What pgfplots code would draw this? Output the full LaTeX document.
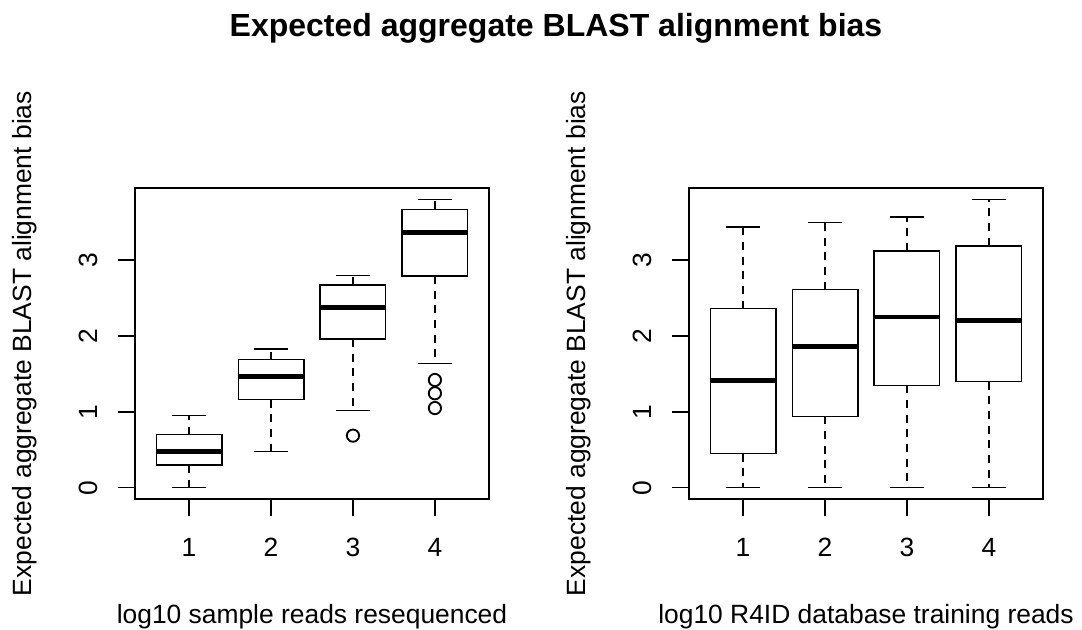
\documentclass[border=0pt]{standalone}
\usepackage{fontspec}
\setmainfont{Liberation Sans}
\usepackage{pgfplots}
\pgfplotsset{compat=1.18}

\newcommand\mainsz{\fontsize{19.8}{23}\selectfont}

\pgfplotsset{
  whisk/.style={black, line width=1.1pt, dash pattern=on 6pt off 5pt},
  rline/.style={black, line width=1.1pt, solid, line join=miter, line cap=rect},
  med/.style={black, line width=3.6pt, line cap=butt},
  outl/.style={black, only marks, mark=o, mark size=4.6pt, mark options={line width=1.4pt}},
  rpanel/.style={
    scale only axis, width=265.5pt, height=233.4pt,
    xmin=0.34, xmax=4.66, ymin=-0.152, ymax=3.952,
    xtick={1,2,3,4}, ytick={0,1,2,3},
    tick align=outside, tick pos=left, major tick length=12.75pt,
    axis line style={line width=1.1pt},
    every tick/.style={black, line width=1.1pt},
    /pgf/number format/assume math mode=true,
    tick label style={font=\mainsz},
    xticklabel style={anchor=base, yshift=-30.5pt},
    yticklabel style={xshift=-15.5pt, rotate=90, anchor=base},
    label style={font=\mainsz},
    xlabel style={at={(axis description cs:0.5,-0.398)}, anchor=base},
    ylabel style={at={(axis description cs:-0.291,0.5)}, rotate=0, anchor=base},
    ylabel={Expected aggregate BLAST alignment bias},
  },
}

% one R style box: x, lower whisker, Q1, median, Q3, upper whisker
\newcommand\rbox[6]{%
  \pgfmathsetmacro\bxl{#1-0.4}\pgfmathsetmacro\bxr{#1+0.4}%
  \pgfmathsetmacro\cpl{#1-0.2}\pgfmathsetmacro\cpr{#1+0.2}%
  \addplot[whisk] coordinates {(#1,#3) (#1,#2)};
  \addplot[whisk] coordinates {(#1,#5) (#1,#6)};
  \addplot[rline] coordinates {(\cpl,#2) (\cpr,#2)};
  \addplot[rline] coordinates {(\cpl,#6) (\cpr,#6)};
  \addplot[rline] coordinates {(\bxl,#3) (\bxr,#3) (\bxr,#5) (\bxl,#5) (\bxl,#3)};
  \addplot[med] coordinates {(\bxl,#4) (\bxr,#4)};
}

\begin{document}
\begin{tikzpicture}
\path[use as bounding box] (0,0) rectangle (811.5pt,471.75pt);
\node[anchor=base, font=\bfseries\fontsize{24}{28}\selectfont] at (417pt,444.2pt)
  {Expected aggregate BLAST alignment bias};

\begin{axis}[rpanel, at={(101.25pt,97.35pt)}, anchor=south west,
             xlabel={log10 sample reads resequenced}]
\rbox{1}{0}{0.30}{0.475}{0.70}{0.95}
\rbox{2}{0.475}{1.16}{1.47}{1.69}{1.83}
\rbox{3}{1.02}{1.96}{2.375}{2.67}{2.80}
\rbox{4}{1.64}{2.79}{3.36}{3.67}{3.80}
\addplot[outl] coordinates {(3,0.686) (4,1.42) (4,1.245) (4,1.05)};
\end{axis}

\begin{axis}[rpanel, at={(516.75pt,97.35pt)}, anchor=south west,
             xlabel={log10 R4ID database training reads}]
\rbox{1}{0}{0.45}{1.41}{2.36}{3.435}
\rbox{2}{0}{0.94}{1.86}{2.61}{3.50}
\rbox{3}{0}{1.35}{2.25}{3.12}{3.57}
\rbox{4}{0}{1.40}{2.20}{3.19}{3.80}
\end{axis}
\end{tikzpicture}
\end{document}
